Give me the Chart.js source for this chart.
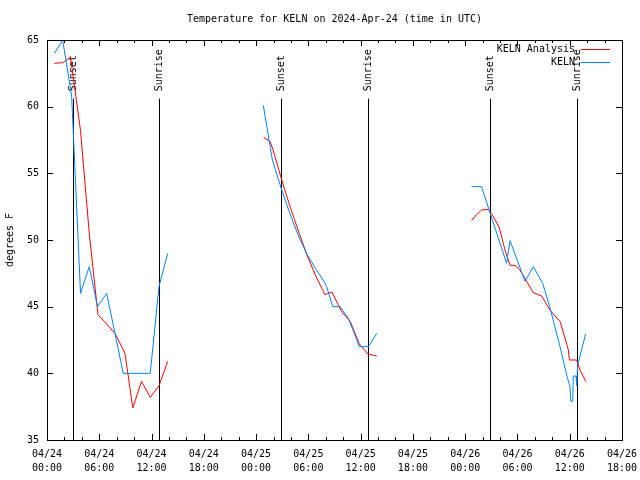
<!DOCTYPE html>
<html>
<head>
<meta charset="utf-8">
<script src="https://cdn.jsdelivr.net/npm/chart.js@4.4.0/dist/chart.umd.min.js"></script>
<style>
  body { margin: 0; background: #fff; }
  #myChart { display: block; }
</style>
</head>
<body>
<canvas id="myChart" width="640" height="480"></canvas>
<script>
// all times are hours since 2024-04-24 00:00 UTC, null = gap between days
const obsHours = [0.85, 1.8, 2.83, 3.85, 4.85, 5.8, 6.85, 8.75, 11.85, 12.85, 13.85,
  19,
  24.83, 25.87, 26.87, 27.87, 28.87, 29.87, 30.87, 31.8, 32.1, 32.8, 33.65, 34.6, 35.15, 35.85, 36.9, 37.85,
  43,
  48.73, 49.88, 52.75, 53.15, 54.87, 55.82, 56.9, 57.7, 58.85, 59.7, 60.03, 60.11, 60.34, 60.41, 60.72, 60.8, 60.91, 61.83];
const obsTemps = [64.0, 65.0, 60.8, 46.0, 48.0, 45.0, 46.0, 40.0, 40.0, 46.5, 49.0,
  null,
  60.1, 56.0, 53.9, 52.0, 50.3, 48.9, 47.8, 46.9, 46.5, 45.0, 45.0, 44.1, 43.2, 42.0, 42.0, 43.0,
  null,
  54.0, 54.0, 48.25, 49.95, 46.9, 48.0, 46.75, 45.0, 42.1, 39.75, 39.0, 37.9, 37.9, 39.8, 39.8, 39.1, 40.6, 42.95];

const anaHours = [0.85, 1.8, 2.7, 3.85, 4.85, 5.85, 6.85, 7.85, 8.95, 9.85, 10.85, 11.85, 12.85, 13.85,
  19,
  24.85, 25.6, 25.95, 26.9, 27.9, 28.9, 29.85, 30.85, 31.9, 32.7, 33.85, 34.8, 35.85, 36.85, 37.85,
  43,
  48.73, 49.3, 49.88, 50.63, 51.02, 51.9, 52.57, 53.15, 53.72, 54.29, 54.87, 55.82, 56.78, 57.74, 58.31, 58.88, 59.26, 59.84, 59.96, 60.8, 61.18, 61.83];
const anaTemps = [63.25, 63.3, 63.7, 58.2, 50.5, 44.4, 43.7, 42.95, 41.5, 37.4, 39.4, 38.2, 39.05, 40.9,
  null,
  57.7, 57.4, 56.75, 54.6, 52.5, 50.6, 48.85, 47.3, 45.9, 46.1, 44.6, 43.9, 42.2, 41.45, 41.3,
  null,
  51.45, 51.9, 52.25, 52.3, 52.0, 50.95, 49.25, 48.1, 48.1, 47.75, 47.1, 46.05, 45.8, 44.75, 44.3, 43.9, 43.1, 41.75, 41.0, 41.0, 40.25, 39.4];

const sunsetHours = [2.95, 26.86, 50.89];
const sunriseHours = [12.89, 36.88, 60.87];

const tickLabels = [
  ['04/24', '00:00'], ['04/24', '06:00'], ['04/24', '12:00'], ['04/24', '18:00'],
  ['04/25', '00:00'], ['04/25', '06:00'], ['04/25', '12:00'], ['04/25', '18:00'],
  ['04/26', '00:00'], ['04/26', '06:00'], ['04/26', '12:00'], ['04/26', '18:00']
];
const yTickLabels = ['35', '40', '45', '50', '55', '60', '65'];

const RED = 'rgb(255,0,0)';
const BLUE = 'rgb(0,128,255)';
const FONT = '10px "DejaVu Sans Mono"';

function toPoints(hours, temps) {
  return hours.map((h, i) => ({ x: h, y: temps[i] }));
}

// frame, inward ticks, sun markers, title, legend
const gnuplotLook = {
  id: 'gnuplotLook',
  beforeDatasetsDraw(chart) {
    const ctx = chart.ctx;
    const xs = chart.scales.x, ys = chart.scales.y;
    ctx.save();
    ctx.font = FONT;
    ctx.fillStyle = '#000';
    ctx.strokeStyle = '#000';
    ctx.lineWidth = 1;
    const draw = (hours, label) => {
      hours.forEach(h => {
        const px = Math.round(xs.getPixelForValue(h)) + 0.5;
        ctx.beginPath();
        ctx.moveTo(px, ys.getPixelForValue(35));
        ctx.lineTo(px, ys.getPixelForValue(60.6));
        ctx.stroke();
        ctx.save();
        ctx.translate(px, ys.getPixelForValue(61.15));
        ctx.rotate(-Math.PI / 2);
        ctx.textAlign = 'left';
        ctx.textBaseline = 'middle';
        ctx.fillText(label, 0, 0);
        ctx.restore();
      });
    };
    draw(sunsetHours, 'Sunset');
    draw(sunriseHours, 'Sunrise');
    ctx.restore();
  },
  afterDraw(chart) {
    const ctx = chart.ctx;
    const a = chart.chartArea;
    const xs = chart.scales.x, ys = chart.scales.y;
    ctx.save();
    ctx.strokeStyle = '#000';
    ctx.lineWidth = 1;
    ctx.strokeRect(a.left + 0.5, a.top + 0.5, a.right - a.left, a.bottom - a.top);
    ctx.beginPath();
    for (let h = 0; h <= 66; h += 2) {
      const px = Math.round(xs.getPixelForValue(h)) + 0.5;
      const len = h % 6 === 0 ? 6 : 3;
      ctx.moveTo(px, a.bottom); ctx.lineTo(px, a.bottom - len);
      ctx.moveTo(px, a.top); ctx.lineTo(px, a.top + len);
    }
    for (let v = 35; v <= 65; v += 5) {
      const py = Math.round(ys.getPixelForValue(v)) + 0.5;
      ctx.moveTo(a.left, py); ctx.lineTo(a.left + 6, py);
      ctx.moveTo(a.right, py); ctx.lineTo(a.right - 6, py);
    }
    ctx.stroke();

    ctx.font = FONT;
    ctx.fillStyle = '#000';
    ctx.textAlign = 'center';
    ctx.textBaseline = 'middle';
    ctx.fillText('Temperature for KELN on 2024-Apr-24 (time in UTC)', (a.left + a.right) / 2, 19);

    ctx.save();
    ctx.translate(10, (a.top + a.bottom) / 2);
    ctx.rotate(-Math.PI / 2);
    ctx.fillText('degrees F', 0, 0);
    ctx.restore();

    // legend, gnuplot style: text then line sample
    ctx.textAlign = 'right';
    const rows = [['KELN Analysis', RED], ['KELN', BLUE]];
    rows.forEach((r, i) => {
      const y = a.top + 9 + i * 13;
      ctx.fillStyle = '#000';
      ctx.fillText(r[0], a.right - 47, y);
      ctx.strokeStyle = r[1];
      ctx.beginPath();
      ctx.moveTo(a.right - 41, y + 0.5);
      ctx.lineTo(a.right - 12, y + 0.5);
      ctx.stroke();
    });
    ctx.restore();
  }
};

const config = {
  type: 'line',
  data: {
    datasets: [
      {
        label: 'KELN',
        data: toPoints(obsHours, obsTemps),
        borderColor: BLUE,
        borderWidth: 1,
        pointRadius: 0,
        tension: 0,
        spanGaps: false
      },
      {
        label: 'KELN Analysis',
        data: toPoints(anaHours, anaTemps),
        borderColor: RED,
        borderWidth: 1,
        pointRadius: 0,
        tension: 0,
        spanGaps: false
      }
    ]
  },
  options: {
    responsive: false,
    animation: false,
    layout: { padding: { top: 40, right: 18, left: 0, bottom: 0 } },
    plugins: {
      legend: { display: false },
      title: { display: false },
      tooltip: { enabled: false }
    },
    scales: {
      x: {
        type: 'linear',
        min: 0,
        max: 66,
        grid: { display: false, drawTicks: false },
        border: { display: false },
        afterFit: (s) => { s.height = 40; s.paddingLeft = 0; s.paddingRight = 0; },
        ticks: {
          stepSize: 6,
          maxRotation: 0,
          autoSkip: false,
          padding: 7,
          color: '#000',
          font: { family: 'DejaVu Sans Mono', size: 10, lineHeight: 1.4 },
          callback: (v, i) => tickLabels[i]
        }
      },
      y: {
        min: 35,
        max: 65,
        grid: { display: false, drawTicks: false },
        border: { display: false },
        afterFit: (s) => { s.width = 47; s.paddingTop = 0; s.paddingBottom = 0; },
        ticks: {
          stepSize: 5,
          padding: 8,
          color: '#000',
          font: { family: 'DejaVu Sans Mono', size: 10 },
          callback: (v, i) => yTickLabels[i]
        }
      }
    }
  },
  plugins: [gnuplotLook]
};

window.onload = function () {
  const ctx = document.getElementById('myChart');
  new Chart(ctx, config);
};
</script>
</body>
</html>
